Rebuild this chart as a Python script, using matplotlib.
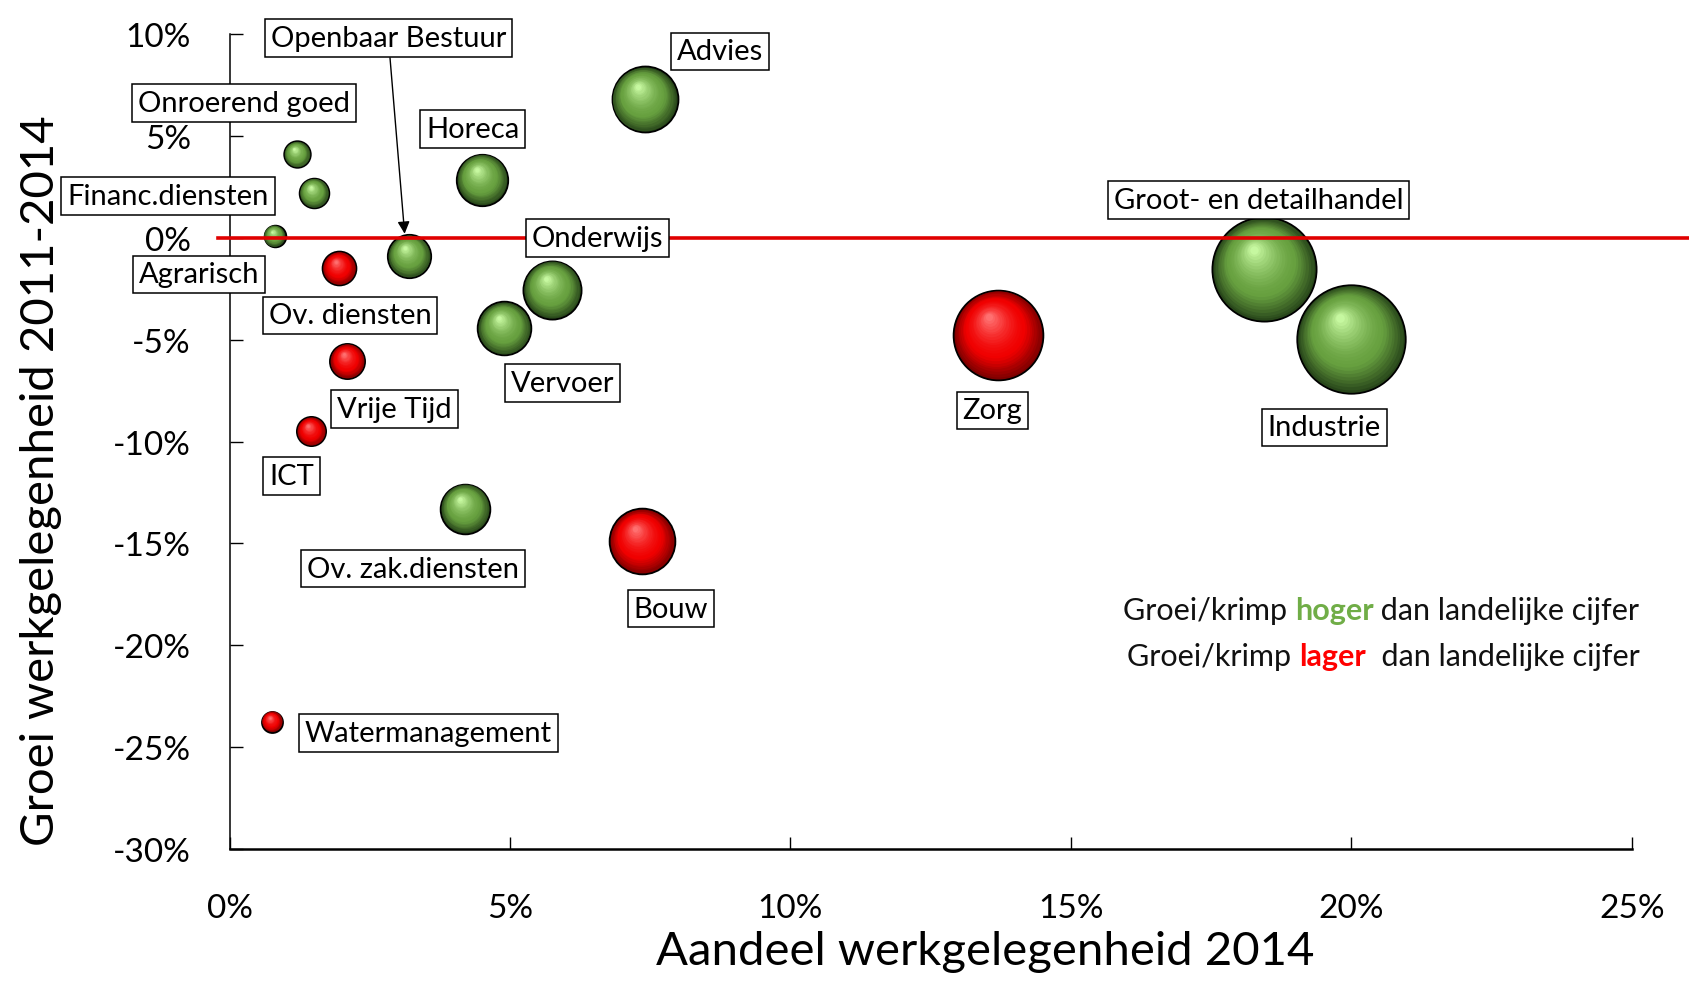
import matplotlib
matplotlib.use("Agg")
import matplotlib.pyplot as plt
import matplotlib.transforms as mtransforms
from matplotlib.offsetbox import TextArea, HPacker, AnchoredOffsetbox
from matplotlib.colors import to_rgb
import numpy as np

plt.rcParams['font.family'] = ['Lato', 'DejaVu Sans']

# sector data
sectors = ['Advies', 'Horeca', 'Onroerend goed', 'Financ.diensten', 'Agrarisch',
           'Openbaar Bestuur', 'Ov. diensten', 'Onderwijs', 'Vervoer', 'Vrije Tijd',
           'ICT', 'Ov. zak.diensten', 'Bouw', 'Watermanagement', 'Zorg',
           'Groot- en detailhandel', 'Industrie']
share = [7.4, 4.5, 1.2, 1.5, 0.8, 3.2, 1.95, 5.75, 4.9, 2.1, 1.45, 4.2, 7.35, 0.75, 13.7, 18.45, 20.0]
growth = [6.8, 2.85, 4.1, 2.2, 0.1, -0.9, -1.5, -2.55, -4.45, -6.05, -9.5, -13.3, -14.9, -23.75, -4.75, -1.55, -4.95]
hoger = [True, True, True, True, True, True, False, True, True, False,
         False, True, False, False, False, True, True]

xticks = [0, 5, 10, 15, 20, 25]
yticks = [10, 5, 0, -5, -10, -15, -20, -25, -30]

# where the label boxes sit (layout, data units)
label_pos = [(8.75, 9.15), (4.33, 5.34), (0.25, 6.61), (-1.1, 2.06), (-0.54, -1.8),
             (2.83, 9.79), (2.15, -3.81), (6.56, 0.0), (5.94, -7.14), (2.94, -8.41),
             (1.1, -11.69), (3.27, -16.24), (7.87, -18.2), (3.54, -24.29), (13.6, -8.47),
             (18.35, 1.85), (19.52, -9.31)]

GREEN = ('#28461a', '#67a03f', '#c6f8a0')
RED = ('#7d0000', '#f00000', '#ff7070')


def mix(c1, c2, t):
    a, b = np.array(to_rgb(c1)), np.array(to_rgb(c2))
    return tuple(a + (b - a) * t)


def draw_bubble(ax, fig, x, y, s, cols):
    dark, base, light = cols
    r = np.sqrt(s) / 2
    ax.scatter([x], [y], s=s, color=dark, edgecolors='black', linewidths=1.3, zorder=2)
    n = 22
    for i in range(1, n + 1):
        t = i / n
        size = s * (1 - 0.92 * t) ** 2
        if t < 0.35:
            col = mix(dark, base, t / 0.35)
        else:
            col = mix(base, light, ((t - 0.35) / 0.65) ** 1.6)
        off = mtransforms.offset_copy(ax.transData, fig=fig, x=-0.2 * r * t, y=0.38 * r * t, units='points')
        ax.scatter([x], [y], s=size, color=col, transform=off, linewidths=0, zorder=2)


fig = plt.figure(figsize=(16.9, 9.87), dpi=100)
ax = fig.add_axes([0.1359, 0.1388, 0.8296, 0.8257])
ax.set_zorder(5)
ax.patch.set_visible(False)

k = 305  # bubble area per % share
for x, y, sh, h in zip(share, growth, share, hoger):
    draw_bubble(ax, fig, x, y, sh * k, GREEN if h else RED)

# national average line
ax.plot([-0.2, 26.2], [0, 0], color='#e00000', lw=2.6, zorder=3, clip_on=False)

box = dict(boxstyle='square,pad=0.2', fc='white', ec='black', lw=1.1)
for name, (lx, ly), x, y in zip(sectors, label_pos, share, growth):
    if name == 'Openbaar Bestuur':
        ax.annotate(name, xy=(x - 0.08, 0.2), xytext=(lx, ly), ha='center', va='center',
                    fontsize=21, bbox=box, zorder=4, annotation_clip=False,
                    arrowprops=dict(arrowstyle='-|>', color='black', lw=1, shrinkA=0, shrinkB=0,
                                    mutation_scale=18))
    else:
        ax.text(lx, ly, name, ha='center', va='center', fontsize=21, bbox=box, zorder=4)

ax.set_xlim(0, 25)
ax.set_ylim(-30, 10)
ax.set_xticks(xticks)
ax.set_xticklabels([f'{v}%' for v in xticks])
ax.set_yticks(yticks)
ax.set_yticklabels([f'{v}%' for v in yticks])
ax.spines['top'].set_visible(False)
ax.spines['right'].set_visible(False)
ax.spines['bottom'].set_linewidth(1.8)
ax.spines['left'].set_linewidth(1.1)
ax.tick_params(axis='x', direction='in', length=9, width=1, pad=32, labelsize=24)
ax.tick_params(axis='y', direction='in', length=9, width=1, pad=28, labelsize=24)

fig.text(0.583, 0.035, 'Aandeel werkgelegenheid 2014', ha='center', va='center', fontsize=34, zorder=1)
fig.text(0.0243, 0.5127, 'Groei werkgelegenheid 2011-2014', ha='center', va='center',
         rotation=90, fontsize=34, zorder=1)

# legend text lines with coloured keyword
for word, rest, col, yy in [('hoger', ' dan landelijke cijfer', '#70ad47', 0.381),
                            ('lager', '  dan landelijke cijfer', '#ff0000', 0.334)]:
    parts = [TextArea('Groei/krimp ', textprops=dict(fontsize=22, color='#111111')),
             TextArea(word, textprops=dict(fontsize=22, color=col, fontweight='bold')),
             TextArea(rest, textprops=dict(fontsize=22, color='#111111'))]
    pack = HPacker(children=parts, align='baseline', pad=0, sep=0)
    anch = AnchoredOffsetbox(loc='center right', child=pack, bbox_to_anchor=(0.970, yy),
                             bbox_transform=fig.transFigure, frameon=False, pad=0, borderpad=0)
    ax.add_artist(anch)

fig.savefig('out.png', dpi=100, facecolor='white')
